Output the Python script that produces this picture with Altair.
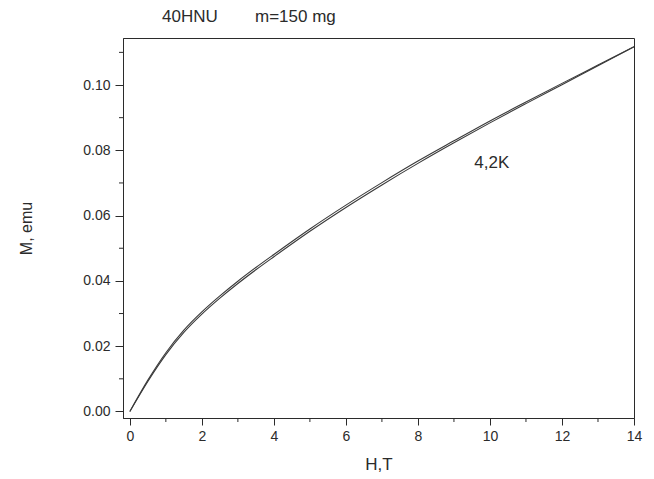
import altair as alt
import pandas as pd

# Magnetization curve at 4.2 K: field (T) vs moment (emu), increasing and decreasing branches
field_T = [0, 0.5, 1, 1.5, 2, 2.5, 3, 3.5, 4, 5, 6, 7, 8, 9, 10, 11, 12, 13, 14]
m_up = [0, 0.0092, 0.0174, 0.0242, 0.0298, 0.0347, 0.0392, 0.0434, 0.0474, 0.0552,
        0.0625, 0.0694, 0.0760, 0.0823, 0.0884, 0.0943, 0.1001, 0.1059, 0.1117]
m_down = [0, 0.0096, 0.0180, 0.0249, 0.0305, 0.0354, 0.0399, 0.0441, 0.0481, 0.0559,
          0.0632, 0.0701, 0.0767, 0.0829, 0.0890, 0.0948, 0.1005, 0.1061, 0.1117]

x_major = [0, 2, 4, 6, 8, 10, 12, 14]
x_minor = [1, 3, 5, 7, 9, 11, 13]
y_major = [0.0, 0.02, 0.04, 0.06, 0.08, 0.10]
y_minor = [0.01, 0.03, 0.05, 0.07, 0.09, 0.11]

curve = pd.DataFrame({
    "H": field_T * 2,
    "M": m_up + m_down,
    "branch": ["up"] * len(field_T) + ["down"] * len(field_T),
})

FONT = "Liberation Sans"
INK = "#2b2b2b"
W, HGT = 511, 380

xs = alt.Scale(domain=[-0.19, 14], nice=False, zero=False)
ys = alt.Scale(domain=[-0.002, 0.1144], nice=False, zero=False)

lines = alt.Chart(curve).mark_line(color="#3a3a3a", strokeWidth=1.1, interpolate="monotone").encode(
    x=alt.X("H:Q", scale=xs, axis=alt.Axis(
        values=x_major, title="H,T", grid=False, tickSize=7, tickColor=INK,
        domainColor=INK, labelFont=FONT, labelFontSize=14, labelColor=INK,
        labelPadding=4, titleFont=FONT, titleFontSize=17, titleFontWeight="normal",
        titleColor=INK, titlePadding=13, labelFlush=False)),
    y=alt.Y("M:Q", scale=ys, axis=alt.Axis(
        values=y_major, format=".2f", title="M, emu", grid=False, tickSize=8,
        tickColor=INK, domainColor=INK, labelFont=FONT, labelFontSize=14,
        labelColor=INK, labelPadding=5, titleFont=FONT, titleFontSize=16,
        titleFontWeight="normal", titleColor=INK, titlePadding=48)),
    detail="branch:N",
)

# Short minor ticks outside the bottom and left edges
minor_x = alt.Chart(pd.DataFrame({"H": x_minor})).mark_rule(color=INK, strokeWidth=1).encode(
    x=alt.X("H:Q", scale=xs), y=alt.value(HGT), y2=alt.value(HGT + 4),
)
minor_y = alt.Chart(pd.DataFrame({"M": y_minor})).mark_rule(color=INK, strokeWidth=1).encode(
    y=alt.Y("M:Q", scale=ys), x=alt.value(0), x2=alt.value(-4),
)

label = alt.Chart(pd.DataFrame({"H": [10.05], "M": [0.0762], "t": ["4,2K"]})).mark_text(
    font=FONT, fontSize=17, color=INK, align="center", baseline="middle"
).encode(x=alt.X("H:Q", scale=xs), y=alt.Y("M:Q", scale=ys), text="t:N")

heading = alt.Chart(pd.DataFrame({"t": ["40HNU", "m=150 mg"], "px": [39, 132]})).mark_text(
    font=FONT, fontSize=17, color=INK, align="left", baseline="alphabetic"
).encode(x=alt.X("px:Q", scale=None), y=alt.value(-16), text="t:N")

chart = alt.layer(lines, minor_x, minor_y, label, heading).properties(
    width=W, height=HGT,
    autosize=alt.AutoSizeParams(type="none"),
    padding={"left": 123, "top": 38, "right": 20, "bottom": 61},
    background="white",
).configure_view(stroke=INK, strokeWidth=1)

chart.save("out.html", embed_options={"renderer": "svg", "actions": False})
